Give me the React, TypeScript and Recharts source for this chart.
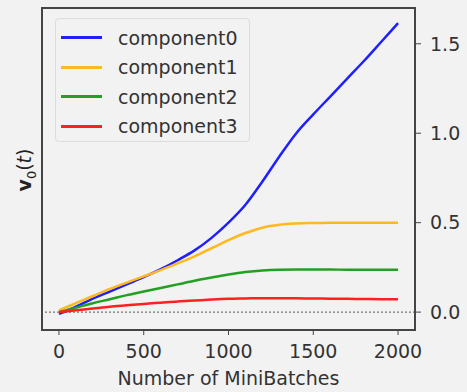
import {
  Label,
  Line,
  LineChart,
  ReferenceArea,
  ReferenceLine,
  XAxis,
  YAxis
} from "recharts";

const steps = [0, 100, 200, 300, 400, 500, 600, 700, 800, 900, 1000, 1100, 1200, 1300, 1400, 1500, 1600, 1700, 1800, 1900, 2000];

const component0 = [-0.01, 0.03, 0.075, 0.115, 0.155, 0.195, 0.24, 0.29, 0.345, 0.415, 0.5, 0.6, 0.73, 0.87, 1.0, 1.105, 1.205, 1.305, 1.405, 1.51, 1.615];
const component1 = [0.01, 0.05, 0.09, 0.13, 0.165, 0.2, 0.235, 0.272, 0.312, 0.357, 0.402, 0.442, 0.472, 0.488, 0.495, 0.498, 0.5, 0.5, 0.5, 0.5, 0.5];
const component2 = [0.0, 0.025, 0.05, 0.072, 0.095, 0.115, 0.135, 0.155, 0.175, 0.193, 0.21, 0.224, 0.233, 0.237, 0.238, 0.238, 0.238, 0.237, 0.237, 0.237, 0.237];
const component3 = [0.0, 0.01, 0.02, 0.03, 0.038, 0.046, 0.053, 0.06, 0.065, 0.07, 0.074, 0.076, 0.078, 0.078, 0.077, 0.076, 0.075, 0.074, 0.073, 0.072, 0.072];

const seriesNames = ["component0", "component1", "component2", "component3"];
const seriesColors = ["#1f1fff", "#ffb820", "#22a022", "#ff2020"];

const xTicks = [0, 500, 1000, 1500, 2000];
const yTicks = [0, 0.5, 1.0, 1.5];

const data = steps.map((step, i) => ({
  step,
  component0: component0[i],
  component1: component1[i],
  component2: component2[i],
  component3: component3[i]
}));

const font = "'DejaVu Sans', sans-serif";
const textColor = "#333";

function LegendBox() {
  return (
    <div
      style={{
        position: "absolute",
        left: 55,
        top: 18,
        width: 195,
        height: 124,
        boxSizing: "border-box",
        border: "1px solid #dcdcdc",
        borderRadius: 4,
        background: "rgba(242,242,242,0.85)",
        padding: "4px 0 0 5px",
        fontFamily: font,
        fontSize: 19,
        color: textColor
      }}
    >
      {seriesNames.map((name, i) => (
        <div key={name} style={{ display: "flex", alignItems: "center", height: 29.5 }}>
          <span style={{ width: 41, height: 3, background: seriesColors[i], marginRight: 16 }} />
          <span>{name}</span>
        </div>
      ))}
    </div>
  );
}

export default function App() {
  return (
    <div style={{ position: "absolute", left: 0, top: 0, width: 467, height: 392, background: "#f2f2f2" }}>
      <LineChart width={467} height={392} data={data} margin={{ top: 8, right: 0, bottom: 0, left: 42 }}>
        <XAxis
          dataKey="step"
          type="number"
          domain={[-100, 2100]}
          ticks={xTicks}
          allowDataOverflow
          axisLine={false}
          tickLine={{ stroke: "#444" }}
          tickSize={5}
          tickMargin={10}
          height={62}
          tick={{ fill: textColor, fontSize: 19, fontFamily: font }}
        >
          <Label
            value="Number of MiniBatches"
            position="insideBottom"
            offset={7}
            style={{ fill: textColor, fontSize: 19, fontFamily: font }}
          />
        </XAxis>
        <YAxis
          orientation="right"
          type="number"
          domain={[-0.1, 1.7]}
          ticks={yTicks}
          allowDataOverflow
          axisLine={false}
          tickLine={{ stroke: "#444" }}
          tickSize={6}
          tickMargin={9}
          width={52}
          tickFormatter={(v) => Number(v).toFixed(1)}
          tick={{ fill: textColor, fontSize: 19, fontFamily: font }}
        />
        <ReferenceLine y={0} stroke="#555" strokeDasharray="2 2" strokeWidth={1} />
        {seriesNames.map((name, i) => (
          <Line
            key={name}
            type="monotone"
            dataKey={name}
            stroke={seriesColors[i]}
            strokeWidth={2.5}
            dot={false}
            isAnimationActive={false}
          />
        ))}
        <ReferenceArea x1={-100} x2={2100} y1={-0.1} y2={1.7} fill="none" stroke="#444" strokeWidth={2} />
      </LineChart>
      <LegendBox />
      <div
        style={{
          position: "absolute",
          left: 26,
          top: 170,
          transform: "translate(-50%, -50%) rotate(-90deg)",
          whiteSpace: "nowrap",
          fontFamily: font,
          fontSize: 19,
          color: "#222"
        }}
      >
        <b>v</b>
        <sub style={{ fontSize: 13 }}>0</sub>(<i>t</i>)
      </div>
    </div>
  );
}
